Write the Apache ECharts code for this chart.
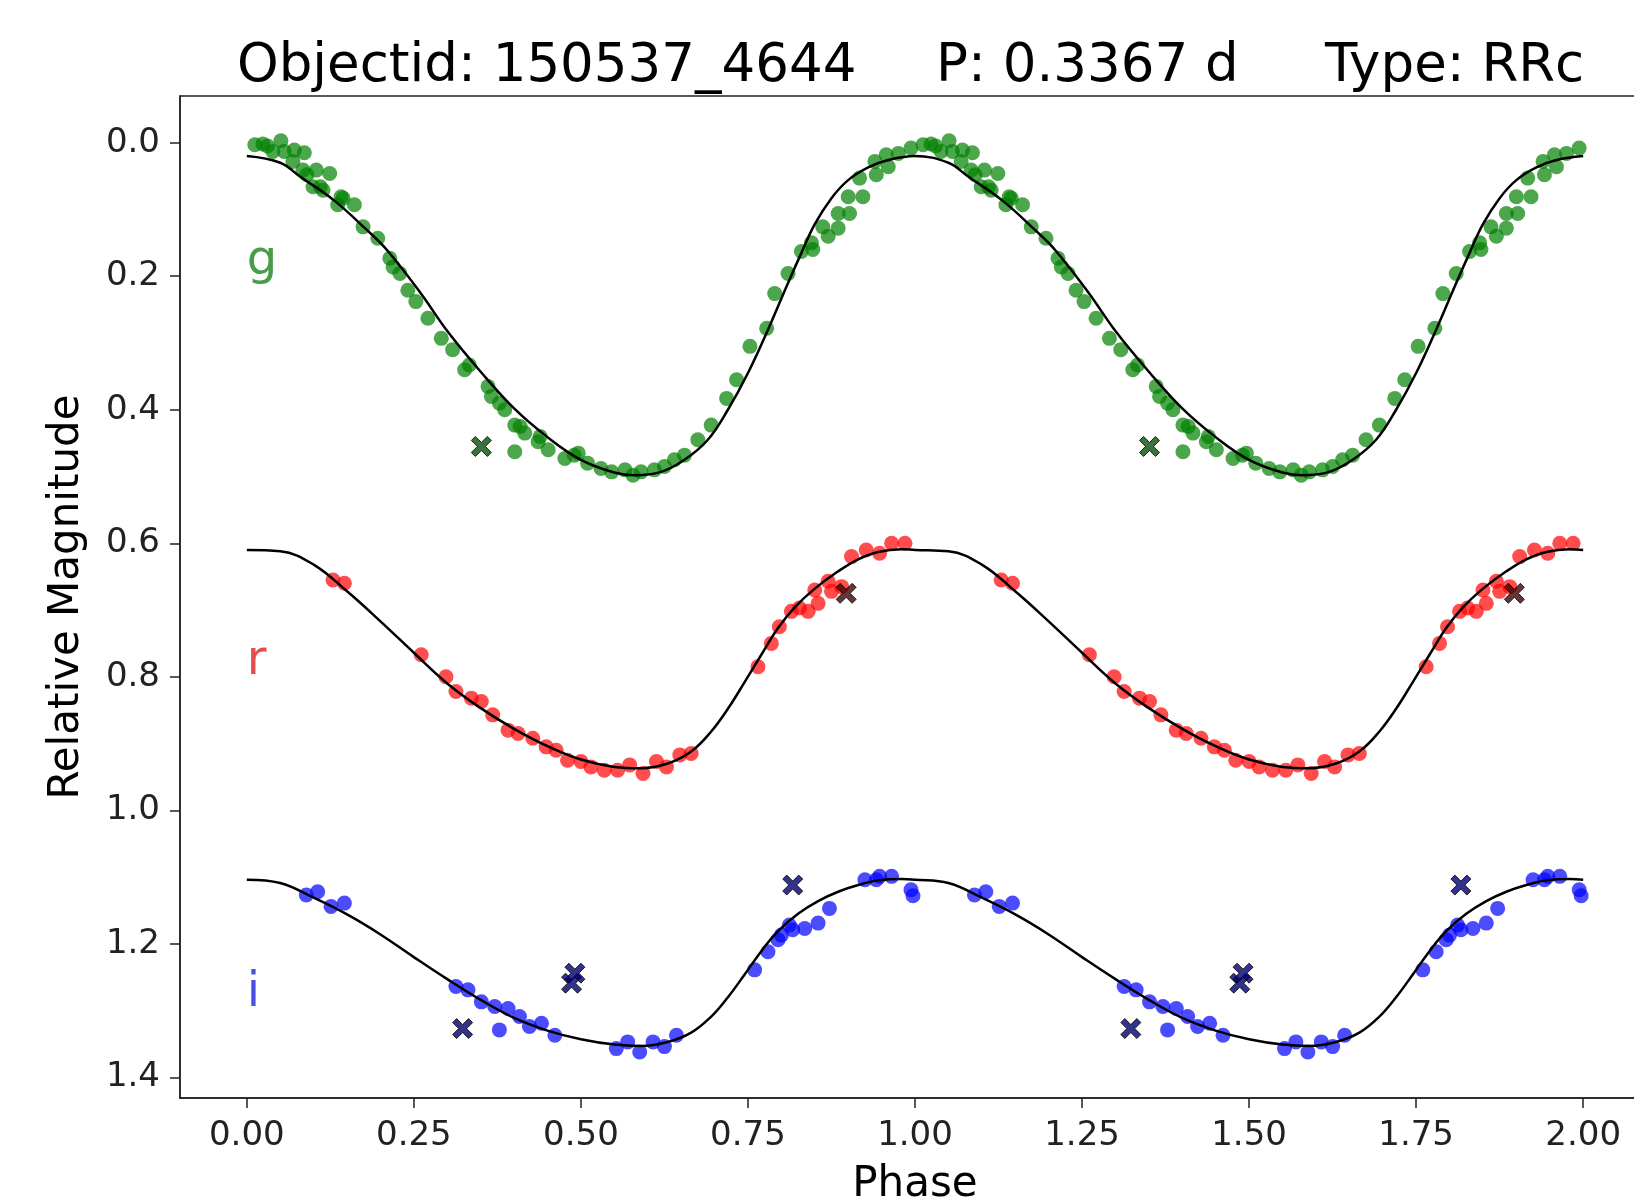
<!DOCTYPE html>
<html>
<head>
<meta charset="utf-8">
<script src="https://cdn.jsdelivr.net/npm/echarts@6/dist/echarts.min.js"></script>
<style>
html,body{margin:0;padding:0;background:#fff;}
#chart{width:1634px;height:1197px;}
</style>
</head>
<body>
<div id="chart"></div>
<script>
// ---- data (phase 0..1; the plot shows phase and phase+1) ----
const titleParts = ['Objectid: 150537_4644', 'P: 0.3367 d', 'Type: RRc'];
const xTicks = [0, 0.25, 0.5, 0.75, 1.0, 1.25, 1.5, 1.75, 2.0];
const yTicks = [0, 0.2, 0.4, 0.6, 0.8, 1.0, 1.2, 1.4];
const bandNames = ['g', 'r', 'i'];
const bandLabelPos = [[0, 0.178], [0, 0.777], [0, 1.274]];

const gPoints = [[0.012,0.003],[0.024,0.002],[0.031,0.005],[0.051,-0.003],[0.039,0.013],[0.056,0.013],[0.071,0.011],[0.086,0.015],[0.069,0.028],[0.084,0.041],[0.09,0.048],[0.104,0.041],[0.11,0.066],[0.124,0.046],[0.099,0.066],[0.114,0.071],[0.141,0.081],[0.144,0.083],[0.136,0.093],[0.161,0.093],[0.174,0.126],[0.196,0.143],[0.214,0.173],[0.219,0.186],[0.229,0.196],[0.241,0.221],[0.253,0.238],[0.271,0.263],[0.291,0.293],[0.308,0.31],[0.326,0.34],[0.333,0.333],[0.361,0.365],[0.366,0.38],[0.378,0.39],[0.386,0.4],[0.401,0.423],[0.401,0.463],[0.409,0.425],[0.416,0.435],[0.436,0.448],[0.439,0.44],[0.451,0.46],[0.476,0.473],[0.49,0.468],[0.496,0.465],[0.51,0.48],[0.53,0.488],[0.546,0.493],[0.566,0.49],[0.578,0.498],[0.59,0.493],[0.61,0.49],[0.625,0.485],[0.64,0.475],[0.655,0.468],[0.675,0.445],[0.695,0.423],[0.718,0.383],[0.733,0.355],[0.753,0.305],[0.778,0.278],[0.79,0.226],[0.81,0.196],[0.83,0.163],[0.845,0.15],[0.847,0.16],[0.862,0.126],[0.87,0.14],[0.885,0.128],[0.885,0.106],[0.902,0.106],[0.9,0.081],[0.922,0.081],[0.917,0.053],[0.942,0.048],[0.94,0.028],[0.96,0.036],[0.957,0.018],[0.975,0.016],[0.994,0.008]];
const gCross = [[0.351,0.455]];
const gFit = [[0,0.020],[0.05,0.030],[0.08,0.051],[0.13,0.086],[0.18,0.131],[0.21,0.161],[0.26,0.225],[0.3,0.282],[0.35,0.343],[0.4,0.398],[0.45,0.441],[0.5,0.475],[0.55,0.494],[0.58,0.498],[0.62,0.493],[0.655,0.475],[0.69,0.445],[0.72,0.40],[0.75,0.345],[0.78,0.28],[0.81,0.21],[0.83,0.165],[0.85,0.122],[0.875,0.083],[0.9,0.056],[0.93,0.037],[0.96,0.026],[1.0,0.020]];

const rPoints = [[0.129,0.655],[0.146,0.66],[0.261,0.767],[0.298,0.8],[0.313,0.822],[0.336,0.832],[0.351,0.837],[0.368,0.857],[0.391,0.88],[0.406,0.885],[0.428,0.892],[0.448,0.905],[0.463,0.91],[0.48,0.925],[0.5,0.927],[0.515,0.935],[0.535,0.94],[0.555,0.94],[0.573,0.932],[0.593,0.945],[0.613,0.927],[0.628,0.935],[0.648,0.917],[0.665,0.915],[0.765,0.785],[0.785,0.75],[0.797,0.725],[0.815,0.702],[0.827,0.697],[0.84,0.702],[0.85,0.67],[0.855,0.69],[0.87,0.657],[0.875,0.672],[0.89,0.665],[0.905,0.62],[0.927,0.61],[0.947,0.615],[0.965,0.6],[0.985,0.6]];
const rCross = [[0.897,0.675]];
const rFit = [[0,0.610],[0.05,0.612],[0.1,0.632],[0.15,0.672],[0.2,0.717],[0.25,0.764],[0.3,0.810],[0.35,0.847],[0.4,0.878],[0.45,0.904],[0.5,0.924],[0.55,0.935],[0.59,0.937],[0.63,0.930],[0.665,0.912],[0.695,0.882],[0.72,0.848],[0.745,0.808],[0.77,0.767],[0.795,0.727],[0.82,0.696],[0.85,0.668],[0.885,0.642],[0.915,0.624],[0.945,0.613],[0.98,0.609],[1.0,0.610]];

const iPoints = [[0.089,1.127],[0.106,1.122],[0.126,1.144],[0.146,1.139],[0.313,1.264],[0.331,1.269],[0.351,1.287],[0.371,1.294],[0.378,1.329],[0.391,1.297],[0.408,1.309],[0.423,1.324],[0.441,1.319],[0.461,1.337],[0.553,1.357],[0.57,1.347],[0.588,1.362],[0.608,1.347],[0.625,1.354],[0.643,1.337],[0.76,1.239],[0.78,1.212],[0.795,1.194],[0.8,1.187],[0.812,1.172],[0.817,1.179],[0.835,1.177],[0.855,1.169],[0.872,1.147],[0.925,1.104],[0.942,1.104],[0.947,1.099],[0.965,1.099],[0.994,1.119],[0.997,1.128]];
const iCross = [[0.323,1.327],[0.486,1.259],[0.491,1.244],[0.817,1.112]];
const iFit = [[0,1.104],[0.05,1.109],[0.1,1.131],[0.15,1.156],[0.2,1.186],[0.25,1.220],[0.3,1.253],[0.35,1.284],[0.4,1.311],[0.45,1.330],[0.5,1.343],[0.55,1.351],[0.59,1.353],[0.63,1.347],[0.665,1.333],[0.695,1.309],[0.72,1.280],[0.745,1.246],[0.77,1.211],[0.795,1.181],[0.825,1.155],[0.855,1.136],[0.885,1.122],[0.915,1.112],[0.945,1.105],[0.98,1.103],[1.0,1.104]];

// ---- helpers ----
const twoCycles = arr => arr.concat(arr.map(p => [p[0] + 1, p[1]]));
const twoCyclesFit = arr => arr.concat(arr.slice(1).map(p => [p[0] + 1, p[1]]));

const FONT = 'DejaVu Sans';
const AX = '#222';
const ptColors = ['#008000', '#ff0000', '#0000ff'];
const crossColors = ['#0b4f0b', '#3a0505', '#00006e'];
const labelColors = ['#1a851a', '#e01f1f', '#1f1fe0'];
const crossPath = 'path://M0,2 L2,0 L5,3 L8,0 L10,2 L7,5 L10,8 L8,10 L5,7 L2,10 L0,8 L3,5 Z';

const bands = [[gPoints, gCross, gFit], [rPoints, rCross, rFit], [iPoints, iCross, iFit]];
const series = [];
bands.forEach((b, k) => {
  series.push({
    type: 'scatter', data: twoCycles(b[0]), symbol: 'circle', symbolSize: 15,
    itemStyle: { color: ptColors[k], opacity: 0.7 }, z: 2, silent: true
  });
});
bands.forEach((b, k) => {
  series.push({
    type: 'line', data: twoCyclesFit(b[2]), showSymbol: false, smooth: 0.4,
    lineStyle: { color: '#000', width: 2.5 }, z: 3, silent: true
  });
});
bands.forEach((b, k) => {
  series.push({
    type: 'scatter', data: twoCycles(b[1]), symbol: crossPath, symbolSize: 20,
    itemStyle: { color: crossColors[k], borderColor: '#000', borderWidth: 1 }, z: 4, silent: true
  });
});
series.push({
  type: 'scatter', symbolSize: 0, z: 5, silent: true,
  data: bandNames.map((n, k) => ({
    value: bandLabelPos[k],
    label: { show: true, formatter: n, color: labelColors[k] }
  })),
  label: { show: true, position: 'inside', align: 'left', verticalAlign: 'middle', fontSize: 48, fontFamily: FONT }
});

const chart = echarts.init(document.getElementById('chart'), null, { renderer: 'canvas' });
chart.setOption({
  animation: false,
  backgroundColor: '#fff',
  grid: { left: 180, top: 96, width: 1470, height: 1002, outerBoundsMode: 'none', containLabel: false,
          show: true, borderColor: AX, borderWidth: 1.5, backgroundColor: 'transparent' },
  graphic: [
    { type: 'text', x: 237, y: 67, style: { text: titleParts[0], font: '53px "DejaVu Sans"', fill: '#000', align: 'left', verticalAlign: 'middle' } },
    { type: 'text', x: 936, y: 67, style: { text: titleParts[1], font: '53px "DejaVu Sans"', fill: '#000', align: 'left', verticalAlign: 'middle' } },
    { type: 'text', x: 1325, y: 67, style: { text: titleParts[2], font: '53px "DejaVu Sans"', fill: '#000', align: 'left', verticalAlign: 'middle' } }
  ],
  xAxis: {
    type: 'value', min: -0.1, max: 2.1,
    name: 'Phase', nameLocation: 'middle', nameGap: 66,
    nameTextStyle: { fontSize: 42, fontFamily: FONT, color: '#000' },
    axisLine: { show: true, onZero: false, lineStyle: { color: AX, width: 1.5 } },
    axisTick: { show: true, customValues: xTicks, length: 10, lineStyle: { color: AX, width: 1.5 } },
    axisLabel: { customValues: xTicks, formatter: v => v.toFixed(2), fontSize: 34, fontFamily: FONT, color: '#222', margin: 21 },
    splitLine: { show: false }
  },
  yAxis: {
    type: 'value', min: -0.07, max: 1.431, inverse: true,
    name: 'Relative Magnitude', nameLocation: 'middle', nameGap: 92,
    nameTextStyle: { fontSize: 42, fontFamily: FONT, color: '#000' },
    axisLine: { show: true, onZero: false, lineStyle: { color: AX, width: 1.5 } },
    axisTick: { show: true, customValues: yTicks, length: 10, lineStyle: { color: AX, width: 1.5 } },
    axisLabel: { customValues: yTicks, formatter: v => v.toFixed(1), fontSize: 34, fontFamily: FONT, color: '#222', margin: 20 },
    splitLine: { show: false }
  },
  series: series
});
</script>
</body>
</html>
